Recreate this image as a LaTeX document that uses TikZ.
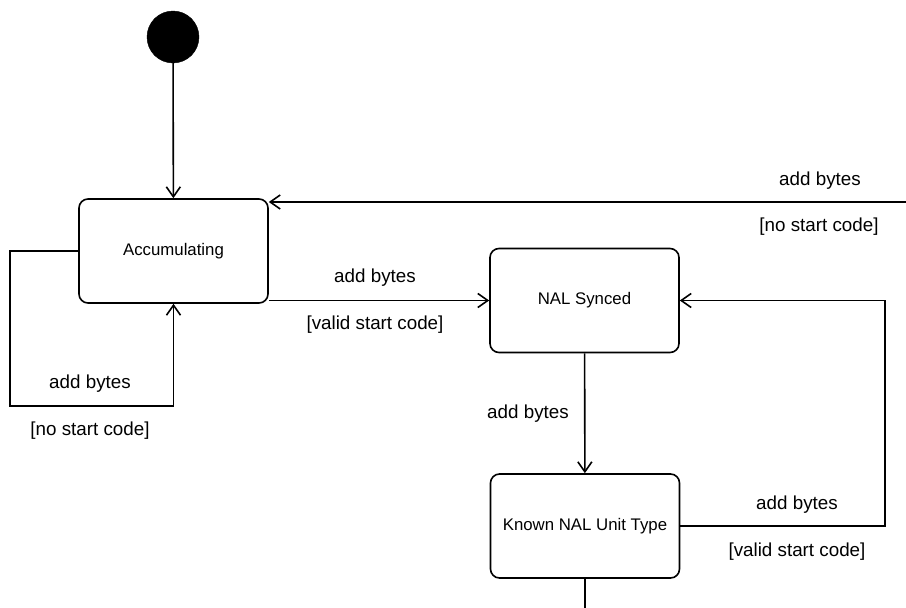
\documentclass[tikz,border=0pt]{standalone}
\usepackage{fontspec}
\setmainfont{Liberation Sans}
\usetikzlibrary{arrows.meta}
\begin{document}
\begin{tikzpicture}[x=1pt,y=-1pt,
  state/.style={draw, line width=1.6pt, rounded corners=9pt,
    minimum width=189pt, minimum height=104pt, inner sep=0pt,
    font=\fontsize{16.8}{20}\selectfont},
  trans/.style={draw, line width=1.6pt,
    -{Straight Barb[length=10pt,width=14pt,line width=1.6pt]}},
  plain/.style={draw, line width=1.6pt},
  lbl/.style={inner sep=0pt, font=\fontsize{18.8}{22}\selectfont}]
\useasboundingbox (0,0) rectangle (906,608);

% states
\node[circle, fill=black, draw, minimum size=52pt, inner sep=0pt] (init) at (173,37) {};
\node[state] (acc) at (173.5,251) {Accumulating};
\node[state] (sync) at (584.5,300.5) {NAL Synced};
\node[state] (known) at (585,526) {Known NAL Unit Type};

% free ends and bends
\coordinate (topin) at (906,202);
\coordinate (accloop) at (10,406);
\coordinate (rcorner) at (885,300.5);
\coordinate (out) at (585,608);

% transitions
\draw[trans] (init) -- (acc);
\draw[trans] (topin) -- (acc.east |- topin);
\draw[trans] (acc.west) -| (accloop) -| (acc.south);
\draw[trans] (acc.east |- sync.west) -- (sync.west);
\draw[trans] (sync) -- (known);
\draw[trans] (known.east) -| (rcorner) -- (sync.east);
\draw[plain] (known.south) -- (out);

% labels
\node[lbl] (l1) at (820,181) {add bytes};
\node[lbl] (g1) at (819,227) {[no start code]};
\node[lbl] (l2) at (90,384) {add bytes};
\node[lbl] (g2) at (90,431) {[no start code]};
\node[lbl] (l3) at (375,278) {add bytes};
\node[lbl] (g3) at (375,325) {[valid start code]};
\node[lbl] (l4) at (528,414) {add bytes};
\node[lbl] (l5) at (797,505) {add bytes};
\node[lbl] (g5) at (797,552) {[valid start code]};
\end{tikzpicture}
\end{document}
